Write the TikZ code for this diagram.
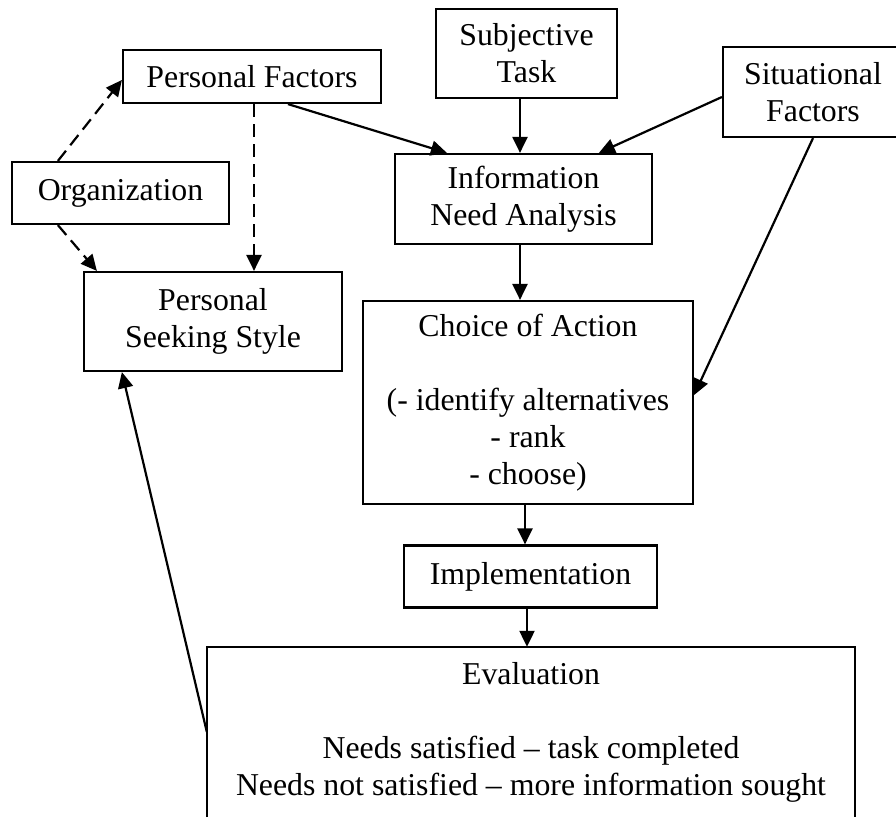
\documentclass[tikz,border=0pt]{standalone}
\usepackage{fontspec}
\setmainfont{Liberation Serif}
\usetikzlibrary{arrows.meta,calc}
\begin{document}
\begin{tikzpicture}[x=1pt,y=-1pt,
  txt/.style={inner sep=0pt,align=center,font=\fontsize{31.8}{37}\selectfont},
  box/.style={txt,draw,line width=2.2pt,rectangle},
  arr/.style={line width=2.2pt,-{Triangle[length=16pt,width=15pt]}},
  dasharr/.style={arr,dash pattern=on 13pt off 7pt}]
\useasboundingbox (0,0) rectangle (896,817);
\clip (0,0) rectangle (896,817);

% boxes
\node[box,minimum width=258pt,minimum height=53pt] (pf) at (252,76.5) {Personal Factors};
\node[box,minimum width=181pt,minimum height=89pt] (st) at (526.5,53.5) {Subjective\\Task};
\node[box,minimum width=180pt,minimum height=90pt] (sf) at (813,92) {Situational\\Factors};
\node[box,minimum width=217pt,minimum height=62pt] (org) at (120.5,193) {Organization};
\node[box,minimum width=257pt,minimum height=90pt] (ina) at (523.5,199) {Information\\Need Analysis};
\node[box,minimum width=258pt,minimum height=99pt] (pss) at (213,321.5) {Personal\\Seeking Style};
\node[box,minimum width=330pt,minimum height=203pt] (coa) at (528,402.5)
  {Choice of Action\\[37pt](- identify alternatives\\- rank\\- choose)};
\node[box,minimum width=253pt,minimum height=62pt] (impl) at (530.5,576.5) {Implementation};
\node[txt,minimum width=648pt,minimum height=170pt] (eval) at (531,732)
  {Evaluation\\[37pt]Needs satisfied – task completed\\Needs not satisfied – more information sought};
% evaluation box is open at the bottom
\draw[line width=2.2pt] (eval.south west) -- (eval.north west) -- (eval.north east) -- (eval.south east);

% solid connectors
\draw[arr] ($(pf.south)+(36,0)$) -- ($(ina.north west)+(53,0)$);
\draw[arr] ($(st.south)+(-6.5,0)$) -- ($(ina.north)+(-3.5,0)$);
\draw[arr] ($(sf.west)+(0,5)$) -- ($(ina.north west)+(205,0)$);
\draw[arr] ($(ina.south)+(-3.5,0)$) -- ($(coa.north)+(-8,0)$);
\draw[arr] (sf.south) -- ($(coa.east)+(0,-7.5)$);
\draw[arr] ($(coa.south)+(-3,0)$) -- ($(impl.north)+(-5.5,0)$);
\draw[arr] ($(impl.south)+(-3.5,0)$) -- ($(eval.north)+(-4,0)$);
\draw[arr] ($(eval.north west)+(0,85)$) -- ($(pss.south west)+(39,0)$);

% dashed connectors
\draw[dasharr] ($(pf.south)+(2,0)$) -- ($(pss.north)+(41,0)$);
\draw[dasharr] ($(org.north west)+(47,0)$) -- ($(pf.west)+(0,3.5)$);
\draw[dasharr] ($(org.south west)+(47,0)$) -- ($(pss.north west)+(14,0)$);
\end{tikzpicture}
\end{document}
